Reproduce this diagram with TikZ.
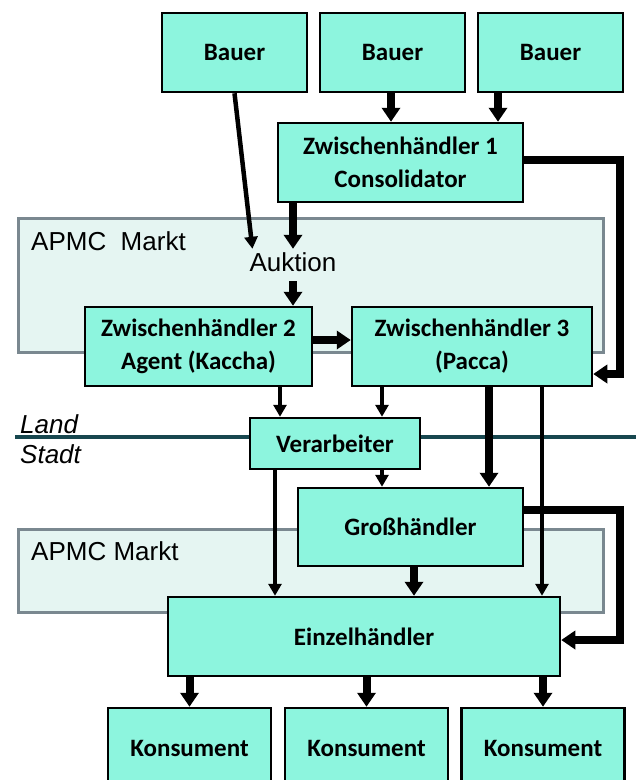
\documentclass[tikz,border=0pt]{standalone}
\usepackage{fontspec}
\setmainfont{Carlito}
\newfontfamily\arialfont{Liberation Sans}
\usetikzlibrary{arrows.meta}
\definecolor{boxfill}{HTML}{8DF5DE}
\definecolor{marktfill}{HTML}{E5F5F2}
\definecolor{marktline}{HTML}{7A8890}
\definecolor{grenze}{HTML}{17474F}

\begin{document}
\begin{tikzpicture}[x=1pt,y=-1pt]
  \tikzset{
    akteur/.style={draw=black,line width=2.5pt,fill=boxfill,align=center,inner sep=0pt,
      font=\fontsize{25}{33}\selectfont\bfseries},
    dick/.style={line width=8pt,-{Triangle[length=14pt,width=18pt]}},
    mittel/.style={line width=4.5pt,-{Triangle[length=12pt,width=13pt]}},
    markt/.style={draw=marktline,line width=3pt,fill=marktfill},
    ortstext/.style={anchor=base west,inner sep=0pt,font=\arialfont\fontsize{26}{30}\selectfont}}
  \useasboundingbox (0,0) rectangle (636,780);
  \clip (0,0) rectangle (636,780);
  % APMC Maerkte und Grenze Land/Stadt
  \draw[markt] (18,218) rectangle (603,352);
  \draw[markt] (18,529) rectangle (603,612);
  \node[ortstext] (apmc1) at (31,250) {APMC\ \ Markt};
  \node[ortstext] (apmc2) at (31,560) {APMC Markt};
  \draw[grenze,line width=3.5pt] (15,437) -- (636,437);
  \node[ortstext,font=\arialfont\itshape\fontsize{26}{30}\selectfont] (land) at (20,433) {Land};
  \node[ortstext,font=\arialfont\itshape\fontsize{26}{30}\selectfont] (stadt) at (20,463) {Stadt};
  % Akteure
  \node[akteur,minimum width=145pt,minimum height=79pt] (bauer1) at (234.5,52.5) {Bauer};
  \node[akteur,minimum width=145pt,minimum height=79pt] (bauer2) at (392.5,52.5) {Bauer};
  \node[akteur,minimum width=145pt,minimum height=79pt] (bauer3) at (550.5,52.5) {Bauer};
  \node[akteur,minimum width=245pt,minimum height=79pt] (zh1) at (400.5,162.5) {Zwischenhändler 1\\Consolidator};
  \node[inner sep=0pt,text height=22pt,text depth=10pt,font=\arialfont\fontsize{26}{30}\selectfont] (auktion) at (293,265) {Auktion};
  \node[akteur,minimum width=227pt,minimum height=79pt] (zh2) at (198.5,346.5) {Zwischenhändler 2\\Agent (Kaccha)};
  \node[akteur,minimum width=240pt,minimum height=79pt] (zh3) at (472,346.5) {Zwischenhändler 3\\(Pacca)};
  \node[akteur,minimum width=170pt,minimum height=51pt] (ver) at (335,443.5) {Verarbeiter};
  \node[akteur,minimum width=225pt,minimum height=78pt] (gh) at (410.5,527) {Großhändler};
  \node[akteur,minimum width=392pt,minimum height=79pt] (ez) at (364,636.5) {Einzelhändler};
  \node[akteur,minimum width=163pt,minimum height=80pt] (k1) at (189.5,748) {Konsument};
  \node[akteur,minimum width=163pt,minimum height=80pt] (k2) at (366.5,748) {Konsument};
  \node[akteur,minimum width=163pt,minimum height=80pt] (k3) at (543,748) {Konsument};
  \coordinate (ecke1) at (620,374);
  \coordinate (ecke2) at (620,640);
  % Warenfluss
  \draw[mittel] (bauer1.south) -- ([xshift=3pt]auktion.north west);
  \draw[dick] ([xshift=-1.5pt]bauer2.south) -- ([xshift=-9.5pt]zh1.north);
  \draw[dick] ([xshift=-52.5pt]bauer3.south) -- ([xshift=97.5pt]zh1.north);
  \draw[dick] ([xshift=-107.5pt]zh1.south) -- (auktion.north);
  \draw[dick] (auktion.south) -- ([xshift=94.5pt]zh2.north);
  \draw[dick] ([yshift=6.5pt]zh2.east) -- ([yshift=6.5pt]zh3.west);
  \draw[dick] ([yshift=2.5pt]zh1.east) -| (ecke1) -- ([yshift=-27.5pt]zh3.east);
  \draw[mittel] ([xshift=81.5pt]zh2.south) -- ([xshift=-55pt]ver.north);
  \draw[mittel] ([xshift=-90pt]zh3.south) -- ([xshift=47pt]ver.north);
  \draw[dick] ([xshift=17pt]zh3.south) -- ([xshift=78.5pt]gh.north);
  \draw[mittel] ([xshift=70pt]zh3.south) -- ([xshift=178pt]ez.north);
  \draw[mittel] ([xshift=-60pt]ver.south) -- ([xshift=-89pt]ez.north);
  \draw[mittel] ([xshift=47pt]ver.south) -- ([xshift=-28.5pt]gh.north);
  \draw[dick] ([xshift=3.5pt]gh.south) -- ([xshift=50pt]ez.north);
  \draw[dick] ([yshift=17pt]gh.east) -| (ecke2) -- ([yshift=-3.5pt]ez.east);
  \draw[dick] ([xshift=-174.5pt]ez.south) -- (k1.north);
  \draw[dick] ([xshift=2.5pt]ez.south) -- (k2.north);
  \draw[dick] ([xshift=179pt]ez.south) -- (k3.north);
\end{tikzpicture}
\end{document}
